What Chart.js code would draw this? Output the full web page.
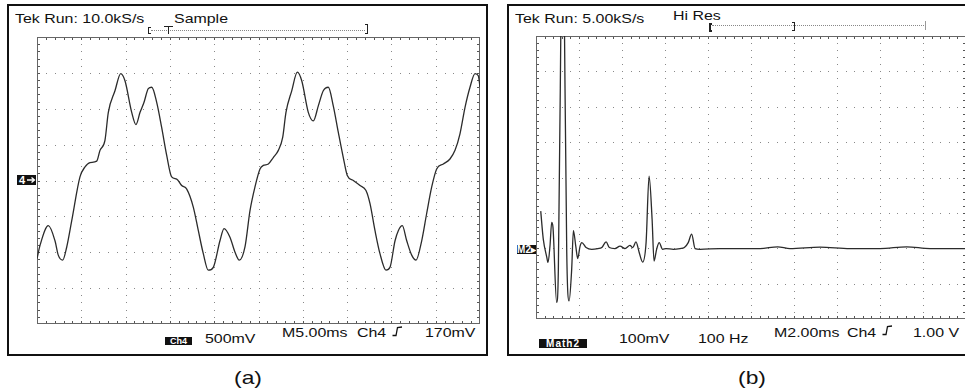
<!DOCTYPE html>
<html>
<head>
<meta charset="utf-8">
<script src="https://cdn.jsdelivr.net/npm/chart.js@4.4.1/dist/chart.umd.min.js"></script>
<style>
  body { margin: 0; background: #fff; }
  #wrap { position: relative; width: 965px; height: 392px; overflow: hidden; background: #fff; }
  .box { position: absolute; border: 2px solid #111; box-sizing: border-box; }
  canvas { position: absolute; }
  .t {
    position: absolute; font-family: "Liberation Sans", Arial, sans-serif;
    font-size: 13.5px; line-height: 13.5px; color: #111; white-space: nowrap;
    transform: scaleX(1.18); transform-origin: 0 0;
  }
  .cap { font-size: 19px; line-height: 19px; transform: scaleX(1.2); transform-origin: 50% 0; }
  .inv {
    position: absolute; background: #111; color: #fff; font-family: "Liberation Sans", Arial, sans-serif;
    font-weight: bold; font-size: 9px; line-height: 8px; height: 8px; text-align: center; overflow: hidden;
  }
  .dots { position: absolute; border-top: 1px dotted #888; height: 0; }
  .br { position: absolute; width: 3px; border: 1px solid #222; box-sizing: border-box; }
</style>
</head>
<body>
<div id="wrap">
  <!-- panel (a) -->
  <div class="box" style="left:7px;top:4px;width:481px;height:352px"></div>
  <div class="t" style="left:15px;top:11.5px">Tek Run: 10.0kS/s</div>
  <div class="t" style="left:174px;top:11.5px">Sample</div>
  <div class="br" style="left:148px;top:27px;height:7px;border-right:none"></div>
  <div class="dots" style="left:151px;top:30px;width:214px"></div>
  <div class="br" style="left:365px;top:24px;height:10px;border-left:none"></div>
  <div style="position:absolute;left:164px;top:26px;width:9px;height:1px;background:#222"></div>
  <div style="position:absolute;left:168px;top:26px;width:1px;height:8px;background:#222"></div>
  <canvas id="chartA" width="443" height="287" style="left:37px;top:37px"></canvas>
  <div class="inv" style="left:17px;top:175px;width:19px;height:10px;line-height:10px;font-size:11px;text-align:left;padding-left:2px;box-sizing:border-box">4</div>
  <svg style="position:absolute;left:26px;top:175px" width="10" height="10">
    <path d="M1 5 H8 M5.5 2.5 L8.5 5 L5.5 7.5" fill="none" stroke="#fff" stroke-width="1.3"/>
  </svg>
  <div class="inv" style="left:165px;top:337px;width:27px">Ch4</div>
  <div class="t" style="left:205px;top:332px">500mV</div>
  <div class="t" style="left:282px;top:326px">M5.00ms</div>
  <div class="t" style="left:357px;top:326px">Ch4</div>
  <svg style="position:absolute;left:392px;top:326px" width="11" height="11">
    <polyline points="0.5,9.5 4,9.5 5.5,1.5 10,1" fill="none" stroke="#111" stroke-width="1.3"/>
  </svg>
  <div class="t" style="left:425px;top:326px">170mV</div>
  <div class="t cap" style="left:223px;top:368px;width:50px;text-align:center">(a)</div>

  <!-- panel (b) -->
  <div class="box" style="left:507px;top:4px;width:470px;height:352px"></div>
  <div class="t" style="left:515px;top:12px">Tek Run: 5.00kS/s</div>
  <div class="t" style="left:673px;top:9px">Hi Res</div>
  <div class="br" style="left:709px;top:23px;height:9px;border-right:none;border-width:2px"></div>
  <div class="dots" style="left:712px;top:25px;width:212px"></div>
  <div class="br" style="left:792px;top:22px;height:9px;border-left:none"></div>
  <div style="position:absolute;left:925px;top:21px;width:1px;height:9px;background:#999"></div>
  <canvas id="chartB" width="430" height="283" style="left:536px;top:36px"></canvas>
  <div class="inv" style="left:517px;top:245px;width:19px;height:9px;line-height:9px;font-size:10px">M2&#9656;</div>
  <div class="t" style="left:774px;top:326px">M2.00ms</div>
  <div class="t" style="left:847px;top:326px">Ch4</div>
  <svg style="position:absolute;left:882px;top:325px" width="11" height="11">
    <polyline points="0.5,9.5 4,9.5 5.5,1.5 10,1" fill="none" stroke="#111" stroke-width="1.3"/>
  </svg>
  <div class="t" style="left:913px;top:326px">1.00 V</div>
  <div class="inv" style="left:539px;top:339px;width:48px;height:9px;line-height:9px;font-size:10px;letter-spacing:1px">Math2</div>
  <div class="t" style="left:619px;top:332px">100mV</div>
  <div class="t" style="left:698px;top:332px">100 Hz</div>
  <div class="t cap" style="left:727px;top:368px;width:50px;text-align:center">(b)</div>
</div>

<script>
// panel (a): Ch4, 5 ms/div, 500 mV/div
const timeA = [0, 0.34, 1.28, 2.03, 2.40, 2.90, 3.35, 3.92, 4.85, 5.42, 5.98, 6.74, 7.11, 7.67, 8.05, 8.80, 9.45, 9.93, 10.69, 11.17,
  11.63, 12.08, 12.56, 12.95, 13.51, 14.07, 14.64, 15.20, 15.77, 16.33, 16.90, 17.64, 18.21, 18.77, 19.33, 19.90, 20.65, 21.11, 21.78, 22.35,
  22.83, 23.48, 24.04, 24.60, 25.17, 25.54, 26.11, 26.67, 27.24, 27.73, 28.10, 28.75, 29.38, 29.88, 30.62, 31.19, 31.75, 32.31, 32.88, 33.44,
  34.01, 34.57, 35.02, 35.70, 36.46, 37.13, 37.58, 38.15, 38.71, 39.39, 39.84, 40.41, 40.78, 41.23, 41.73, 42.29, 42.78, 43.42, 43.98, 44.55,
  45.11, 45.86, 46.61, 47.18, 47.74, 48.31, 48.87, 49.44, 49.81, 50.0];
const voltsA = [-1.09, -0.905, -0.63, -0.84, -1.04, -1.11, -0.93, -0.56, 0.05, 0.19, 0.25, 0.27, 0.42, 0.56, 0.95, 1.25, 1.49, 1.39, 0.95, 0.78,
  0.95, 1.09, 1.28, 1.30, 1.09, 0.74, 0.35, 0.05, 0.02, -0.07, -0.12, -0.37, -0.70, -1.02, -1.25, -1.21, -0.84, -0.67, -0.79, -1.00,
  -1.11, -0.92, -0.42, -0.09, 0.16, 0.21, 0.23, 0.32, 0.42, 0.60, 0.95, 1.25, 1.51, 1.39, 0.95, 0.83, 1.04, 1.25, 1.30, 1.04,
  0.67, 0.32, 0.07, 0.00, -0.07, -0.14, -0.32, -0.70, -1.02, -1.25, -1.21, -0.84, -0.70, -0.63, -0.84, -1.04, -1.11, -0.84, -0.46, -0.09,
  0.16, 0.23, 0.30, 0.42, 0.65, 1.02, 1.30, 1.49, 1.46, 1.30];

// panel (b): Math2, 2 ms/div, 100 mV/div, relative to the M2 marker
const timeB = [0.22, 0.34, 0.50, 0.56, 0.65, 0.73, 0.79, 0.96, 1.04, 1.16, 1.24, 1.32, 1.43, 1.54, 1.66, 1.74, 1.85, 1.94, 2.05, 2.13,
  2.33, 2.59, 2.88, 3.06, 3.26, 3.41, 3.67, 3.91, 4.14, 4.37, 4.50, 4.65, 4.80, 4.96, 5.12, 5.26, 5.40, 5.49, 5.61, 5.73,
  5.89, 6.05, 6.39, 6.70, 6.90, 7.08, 7.24, 7.40, 7.63, 8.56, 9.49, 10.42, 11.24, 11.81, 13.21, 14.60, 16.00, 17.24, 18.33, 20.0];
const mathB = [105, 25, -25, -40, 6, 73, 59, -153, -59, 650, 1200, 650, -11, -149, -59, 50, 6, -29, 6, 16,
  2, -3, -1, 2, 18, 2, -1, 6, -1, 8, 2, 18, -12, -39, 16, 204, 82, -36, -3, 16,
  -3, -1, -3, -1, 2, 16, 40, -1, -3, -1, -1, -1, 4, -1, 3, -1, -1, 4, -1, -1];

const zip = (xs, ys) => xs.map((x, i) => ({ x, y: ys[i] }));

// scope graticule: dotted major lines, minor ticks on the border
const graticule = {
  id: "graticule",
  beforeDatasetsDraw(chart, args, opts) {
    const { ctx, chartArea: a } = chart;
    const xs = chart.scales.x, ys = chart.scales.y;
    const nx = Math.round((xs.max - xs.min) / opts.xStep);
    const ny = Math.round((ys.max - ys.min) / opts.yStep);
    const px = (i) => Math.round(xs.getPixelForValue(xs.min + i * opts.xStep / 5));
    const py = (j) => Math.round(ys.getPixelForValue(ys.min + j * opts.yStep / 5));
    ctx.save();
    ctx.fillStyle = "#888";
    for (let i = 0; i <= nx; i++) {
      for (let j = 0; j <= ny * 5; j++) ctx.fillRect(px(i * 5), py(j), 1, 1);
    }
    for (let j = 0; j <= ny; j++) {
      for (let i = 0; i <= nx * 5; i++) ctx.fillRect(px(i), py(j * 5), 1, 1);
    }
    ctx.fillStyle = "#555";
    for (let i = 0; i <= nx * 5; i++) {
      const x = Math.min(px(i), a.right - 1);
      ctx.fillRect(x, a.top, 1, 3);
      ctx.fillRect(x, a.bottom - 3, 1, 3);
    }
    for (let j = 0; j <= ny * 5; j++) {
      const y = Math.min(py(j), a.bottom - 1);
      ctx.fillRect(a.left, y, 3, 1);
      ctx.fillRect(a.right - 3, y, 3, 1);
    }
    ctx.strokeStyle = "#666";
    ctx.lineWidth = 1;
    ctx.strokeRect(a.left + 0.5, a.top + 0.5, a.right - a.left - 1, a.bottom - a.top - 1);
    ctx.restore();
  },
};

function scopeChart(id, points, xMax, yMin, yMax, xStep, yStep) {
  return new Chart(document.getElementById(id), {
    type: "line",
    data: {
      datasets: [{
        data: points,
        borderColor: "#2b2b2b",
        borderWidth: 1.3,
        pointRadius: 0,
        cubicInterpolationMode: "monotone",
        fill: false,
      }],
    },
    options: {
      responsive: false,
      animation: false,
      devicePixelRatio: 1,
      layout: { padding: 0 },
      scales: {
        x: { type: "linear", min: 0, max: xMax, display: false },
        y: { min: yMin, max: yMax, display: false },
      },
      plugins: {
        legend: { display: false },
        tooltip: { enabled: false },
        graticule: { xStep, yStep },
      },
    },
    plugins: [graticule],
  });
}

scopeChart("chartA", zip(timeA, voltsA), 50, -2, 2, 5, 0.5);
scopeChart("chartB", zip(timeB, mathB), 20, -200, 600, 2, 100);
</script>
</body>
</html>
